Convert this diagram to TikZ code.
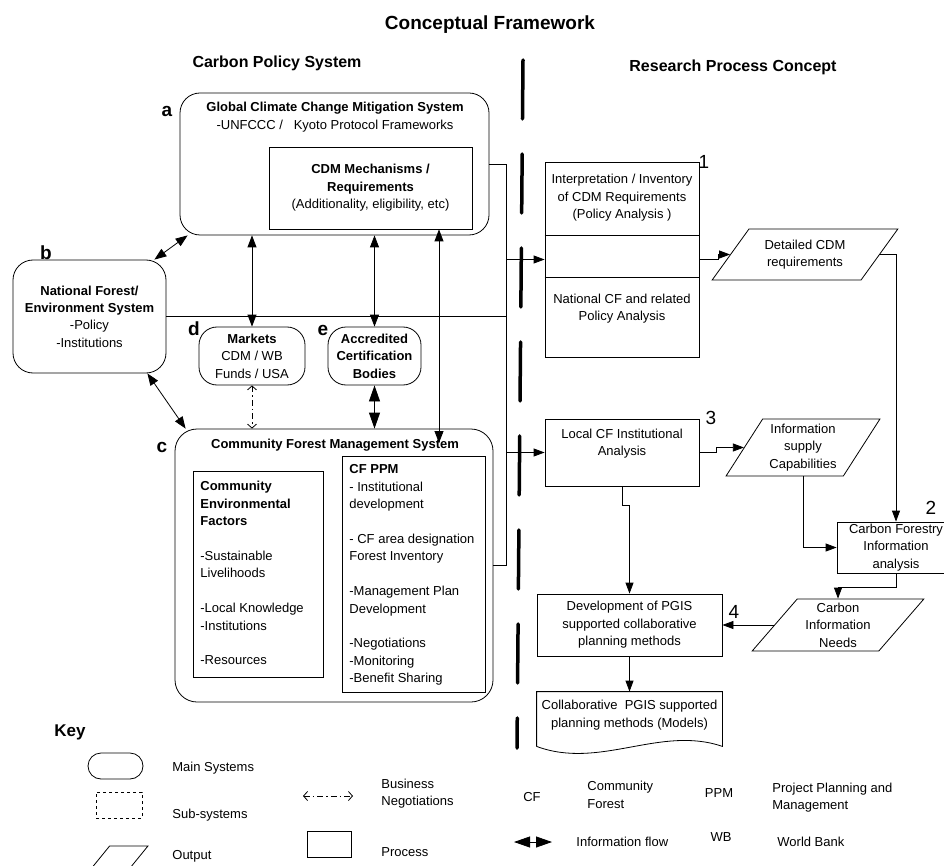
\documentclass[tikz,border=0pt]{standalone}
\usepackage{fontspec}
\setmainfont{Liberation Sans}
\usetikzlibrary{arrows.meta,shapes.geometric}

\tikzset{
	sysbox/.style={draw, rounded corners=20pt, inner sep=0pt, align=center},
	subbox/.style={draw, inner sep=0pt},
	procbox/.style={draw, inner sep=0pt, align=center},
	outbox/.style={draw, trapezium, trapezium stretches=true, inner sep=0pt, align=center},
	txt/.style={inner sep=0pt, align=center},
	ltxt/.style={inner sep=0pt, align=left},
	tag/.style={inner sep=0pt, font=\fontsize{19}{19}\selectfont\bfseries},
	num/.style={inner sep=0pt, font=\fontsize{19}{19}\selectfont},
	flow/.style={-{Triangle[length=11pt,width=8pt]}},
	info/.style={{Triangle[length=12pt,width=9pt]}-{Triangle[length=12pt,width=9pt]}},
	bigflow/.style={{Triangle[length=16pt,width=11pt]}-{Triangle[length=16pt,width=11pt]}},
	biz/.style={dash pattern=on 6pt off 3pt on 1.5pt off 3pt, {Straight Barb[length=4pt,width=9pt]}-{Straight Barb[length=4pt,width=9pt]}},
}

\begin{document}
\begin{tikzpicture}[x=1pt,y=-1pt,line width=0.8pt,font=\fontsize{13}{17.4}\selectfont]
	\useasboundingbox (0,0) rectangle (944,866);

	\node[txt,font=\fontsize{19}{22}\selectfont\bfseries] (title) at (490,25) {Conceptual Framework};
	\node[txt,font=\fontsize{16}{19}\selectfont\bfseries] (cps) at (277,63) {Carbon Policy System};
	\node[txt,font=\fontsize{16}{19}\selectfont\bfseries] (rpc) at (733,67) {Research Process Concept};

	\draw[line width=3.5pt,line cap=round,dash pattern=on 59pt off 35pt] (523,60) -- (517,748);

	\node[sysbox, minimum width=309pt, minimum height=142pt] (gccms) at (334.5,164) {};
	\node[txt] (gccmstxt) at (335,117) {\textbf{Global Climate Change Mitigation System}\\-UNFCCC /\ \ \ Kyoto Protocol Frameworks};
	\node[procbox, minimum width=203pt, minimum height=82pt] (cdm) at (370.5,188) {\textbf{CDM Mechanisms /}\\\textbf{Requirements}\\(Additionality, eligibility, etc)};

	\node[sysbox, minimum width=153pt, minimum height=113pt] (nfes) at (89.5,316.5) {\textbf{National Forest/}\\\textbf{Environment System}\\-Policy\\-Institutions};
	\node[sysbox, rounded corners=18pt, minimum width=106pt, minimum height=58pt] (mkt) at (252,356) {\textbf{Markets}\\CDM / WB\\Funds / USA};
	\node[sysbox, rounded corners=18pt, minimum width=93pt, minimum height=58pt] (acb) at (374.5,356) {\textbf{Accredited}\\\textbf{Certification}\\\textbf{Bodies}};

	\node[sysbox, rounded corners=22pt, minimum width=318pt, minimum height=273pt] (cfms) at (334,565.5) {};
	\node[txt] (cfmstxt) at (335,445) {\textbf{Community Forest Management System}};
	\node[subbox, minimum width=130pt, minimum height=206pt] (cef) at (258,574) {};
	\node[ltxt, anchor=north west] (ceftxt) at (200,481) {\textbf{Community}\\\textbf{Environmental}\\\textbf{Factors}\\[17.4pt]-Sustainable\\Livelihoods\\[17.4pt]-Local Knowledge\\-Institutions\\[17.4pt]-Resources};
	\node[subbox, minimum width=143pt, minimum height=236pt] (ppm) at (413.5,574) {};
	\node[ltxt, anchor=north west] (ppmtxt) at (349,464.5) {\textbf{CF PPM}\\- Institutional\\development\\[17.4pt]- CF area designation\\Forest Inventory\\[17.4pt]-Management Plan\\Development\\[17.4pt]-Negotiations\\-Monitoring\\-Benefit Sharing};

	\node[tag] (la) at (167,111) {a};
	\node[tag] (lb) at (46,253) {b};
	\node[tag] (lc) at (162,447) {c};
	\node[tag] (ld) at (194,329) {d};
	\node[tag] (le) at (323,330) {e};

	\node[procbox, minimum width=154pt, minimum height=195pt] (cdmreq) at (622,259.5) {};
	\draw ([yshift=-74pt]cdmreq.north west) -- ([yshift=-74pt]cdmreq.north east);
	\draw ([yshift=-116pt]cdmreq.north west) -- ([yshift=-116pt]cdmreq.north east);
	\node[txt] (cdmreqtxt) at (622,198) {Interpretation / Inventory\\of CDM Requirements\\(Policy Analysis )};
	\node[txt] (natcftxt) at (622,308.5) {National CF and related\\Policy Analysis};
	\node[num] (n1) at (704,162) {1};

	\node[outbox, trapezium left angle=48, trapezium right angle=132, minimum width=186pt, minimum height=51pt] (cdmout) at (805,254.5) {Detailed CDM\\requirements};

	\node[procbox, minimum width=118pt, minimum height=51pt] (cfinfo) at (896,547.5) {Carbon Forestry\\Information\\analysis};
	\node[num] (n2) at (931,508) {2};

	\node[procbox, minimum width=154pt, minimum height=67pt] (localcf) at (622,452.5) {};
	\node[txt] (localcftxt) at (622,443.5) {Local CF Institutional\\Analysis};
	\node[num] (n3) at (711,418) {3};
	\node[outbox, trapezium left angle=57, trapezium right angle=123, minimum width=154pt, minimum height=57pt] (supply) at (803,447.5) {Information\\supply\\Capabilities};

	\node[procbox, minimum width=185pt, minimum height=62pt] (pgis) at (629.5,625) {Development of PGIS\\supported collaborative\\planning methods};
	\node[num] (n4) at (734,612) {4};
	\node[outbox, trapezium left angle=51, trapezium right angle=129, minimum width=172pt, minimum height=52pt] (needs) at (838,625) {Carbon\\Information\\Needs};

	\node[txt, minimum width=185pt, minimum height=46pt] (models) at (629.5,715) {Collaborative\ \ PGIS supported\\planning methods (Models)};
	\draw ([yshift=-8pt]models.south west) -- (models.north west) -- (models.north east) -- ([yshift=-8pt]models.south east) .. controls (660,725) and (600,770) .. ([yshift=-8pt]models.south west);

	\coordinate (bustop) at (506,164);
	\coordinate (busbot) at (506,565.5);
	\draw (gccms.east) -- (bustop) -- (busbot) -- (cfms.east);
	\draw (nfes.east) -- (nfes.east -| bustop);
	\draw[flow] (bustop |- cdmreq.west) -- (cdmreq.west);
	\draw[flow] (bustop |- localcf.west) -- (localcf.west);

	\draw[flow] (cdmreq.east) -- ++(19,0) |- (cdmout.left side);
	\draw[flow] (cdmout.right side) -| (cfinfo.north);
	\draw[flow] (localcf.east) -- ++(17,0) |- (supply.left side);
	\draw[flow] (supply.center |- supply.bottom side) |- (cfinfo.west);
	\draw[flow] (localcf.south) -- ++(0,19) -| (pgis.north);
	\draw[flow] (cfinfo.south) -- ++(0,14) -| (needs.center |- needs.top side);
	\draw[flow] (needs.left side) -- (pgis.east);
	\draw[flow] (pgis.south) -- (models.north);

	\draw[info] ([xshift=-12pt]nfes.north east) -- ([xshift=8pt]gccms.south west);
	\draw[info] (mkt.north) -- (mkt.north |- gccms.south);
	\draw[info] (acb.north) -- (acb.north |- gccms.south);
	\coordinate (cfin) at (439,443);
	\draw[info] (cfin) -- (cfin |- cdm.south);
	\draw[info] ([xshift=-19pt]nfes.south east) -- ([xshift=11pt]cfms.north west);
	\draw[biz] (mkt.south) -- (mkt.south |- cfms.north);
	\draw[bigflow] (acb.south) -- (acb.south |- cfms.north);

	\node[txt, font=\fontsize{17}{20}\selectfont\bfseries] (key) at (70,732) {Key};
	\node[sysbox, rounded corners=13pt, minimum width=55pt, minimum height=26pt] (keysys) at (115.5,766) {};
	\node[ltxt, anchor=west] (keysystxt) at (172,768) {Main Systems};
	\node[subbox, dashed, minimum width=46pt, minimum height=26pt] (keysub) at (119,805) {};
	\node[ltxt, anchor=west] (keysubtxt) at (172,815) {Sub-systems};
	\node[outbox, trapezium left angle=57, trapezium right angle=123, minimum width=71pt, minimum height=40pt] (keyout) at (112.5,866) {\hspace*{2pt}\strut};
	\node[ltxt, anchor=west] (keyouttxt) at (172,856) {Output};
	\coordinate (bizl) at (303,796);
	\coordinate (bizr) at (353,796);
	\draw[biz] (bizl) -- (bizr);
	\node[ltxt, anchor=west] (keybiztxt) at (381,793.5) {Business\\Negotiations};
	\node[procbox, minimum width=44pt, minimum height=26pt] (keyproc) at (329,844) {};
	\node[ltxt, anchor=west] (keyproctxt) at (381,852) {Process};
	\node[txt] (keycf) at (532,797) {CF};
	\node[ltxt, anchor=west] (keycftxt) at (587,795) {Community\\Forest};
	\node[txt] (keyppm) at (719,793) {PPM};
	\node[ltxt, anchor=west] (keyppmtxt) at (772,797.5) {Project Planning and\\Management};
	\coordinate (infol) at (514,842);
	\coordinate (infor) at (552,842);
	\draw[bigflow] (infol) -- (infor);
	\node[ltxt, anchor=west] (keyinfotxt) at (576,842) {Information flow};
	\node[txt] (keywb) at (721,837) {WB};
	\node[ltxt, anchor=west] (keywbtxt) at (777,842) {World Bank};
\end{tikzpicture}
\end{document}
